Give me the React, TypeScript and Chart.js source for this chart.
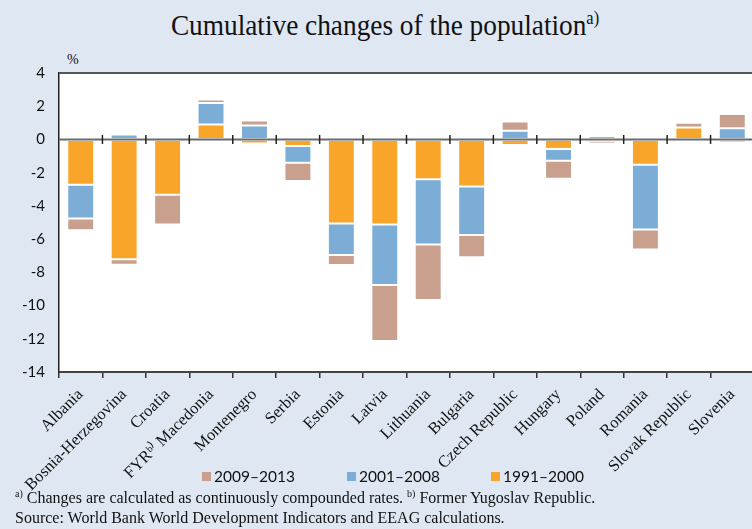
import React, { useEffect, useRef } from "react";
import { Chart, registerables } from "chart.js";

Chart.register(...registerables);

const categories = [
  "Albania",
  "Bosnia-Herzegovina",
  "Croatia",
  "FYRᵇ⁾ Macedonia",
  "Montenegro",
  "Serbia",
  "Estonia",
  "Latvia",
  "Lithuania",
  "Bulgaria",
  "Czech Republic",
  "Hungary",
  "Poland",
  "Romania",
  "Slovak Republic",
  "Slovenia",
];

const p1991_2000 = [-2.73, -7.21, -3.33, 0.9, -0.24, -0.4, -5.06, -5.12, -2.39, -2.83, -0.34, -0.57, 0.2, -1.52, 0.72, -0.18];
const p2001_2008 = [-2.03, 0.3, 0.0, 1.3, 0.84, -1.0, -1.9, -3.65, -3.93, -2.93, 0.52, -0.72, -0.08, -3.9, -0.06, 0.67];
const p2009_2013 = [-0.7, -0.34, -1.79, 0.2, 0.3, -1.1, -0.6, -3.37, -3.35, -1.33, 0.56, -1.08, -0.16, -1.2, 0.28, 0.86];

const yTicks = [4, 2, 0, -2, -4, -6, -8, -10, -12, -14];

const seriesNames = ["2009–2013", "2001–2008", "1991–2000"];
const COLORS = { s2009: "#C9A08D", s2001: "#7BADD6", s1991: "#F9A52A" };
const BG = "#DFE7F3";

const overlayPlugin = {
  id: "overlay",
  beforeDraw(chart: any) {
    const { ctx, chartArea } = chart;
    ctx.save();
    ctx.fillStyle = "#FFFFFF";
    ctx.fillRect(chartArea.left, chartArea.top, chartArea.right - chartArea.left, chartArea.bottom - chartArea.top);
    ctx.restore();
  },
  afterDatasetsDraw(chart: any) {
    const { ctx, chartArea, scales } = chart;
    const y0 = scales.y.getPixelForValue(0);
    ctx.save();
    ctx.strokeStyle = "#555";
    ctx.lineWidth = 2;
    ctx.beginPath();
    ctx.moveTo(chartArea.left, chartArea.top);
    ctx.lineTo(chartArea.right, chartArea.top);
    ctx.stroke();
    ctx.strokeStyle = "#6a6a6a";
    ctx.lineWidth = 2;
    ctx.beginPath();
    ctx.moveTo(chartArea.left, y0);
    ctx.lineTo(chartArea.right, y0);
    ctx.stroke();
    ctx.strokeStyle = "#222";
    ctx.lineWidth = 1.5;
    const n = categories.length;
    for (let i = 1; i < n; i++) {
      const x = (scales.x.getPixelForValue(i - 1) + scales.x.getPixelForValue(i)) / 2;
      ctx.beginPath();
      ctx.moveTo(x, y0 - 4.5);
      ctx.lineTo(x, y0 + 4.5);
      ctx.stroke();
    }
    ctx.restore();
  },
};

function ChartCanvas() {
  const ref = useRef<HTMLCanvasElement | null>(null);
  useEffect(() => {
    if (!ref.current) return;
    const barStyle = {
      borderWidth: 1,
      borderColor: "rgba(255,255,255,0.55)",
      borderSkipped: false,
      categoryPercentage: 1,
      barPercentage: 0.62,
    };
    const chart = new Chart(ref.current, {
      type: "bar",
      data: {
        labels: categories,
        datasets: [
          { label: seriesNames[2], data: p1991_2000, backgroundColor: COLORS.s1991, ...barStyle },
          { label: seriesNames[1], data: p2001_2008, backgroundColor: COLORS.s2001, ...barStyle },
          { label: seriesNames[0], data: p2009_2013, backgroundColor: COLORS.s2009, ...barStyle },
        ],
      } as any,
      options: {
        animation: false,
        responsive: false,
        devicePixelRatio: 1,
        layout: { padding: { top: 21, left: 0, right: 0, bottom: 0 } },
        plugins: { legend: { display: false }, tooltip: { enabled: false }, title: { display: false } },
        scales: {
          x: {
            stacked: true,
            grid: { drawOnChartArea: false, drawTicks: true, tickLength: 6, color: "#333", lineWidth: 1.5, offset: true },
            border: { color: "#444", width: 2 },
            ticks: {
              autoSkip: false,
              minRotation: 45,
              maxRotation: 45,
              padding: 7,
              color: "#111",
              font: { family: "'Liberation Serif', serif", size: 16.5 },
            },
            afterFit: (s: any) => {
              s.height = 157;
            },
          },
          y: {
            stacked: true,
            min: -14,
            max: 4,
            afterBuildTicks: (s: any) => {
              s.ticks = yTicks.map((v) => ({ value: v }));
            },
            grid: { drawOnChartArea: false, drawTicks: false },
            border: { color: "#222", width: 1.5 },
            ticks: {
              padding: 14,
              color: "#111",
              font: { family: "Lato, 'Noto Sans', sans-serif", size: 15 },
            },
            afterFit: (s: any) => {
              s.width = 59;
            },
          },
        },
      } as any,
      plugins: [overlayPlugin],
    });
    return () => chart.destroy();
  }, []);
  return <canvas ref={ref} width={754} height={479} style={{ position: "absolute", left: 0, top: 50, width: 754, height: 479 }} />;
}

export default function App() {
  const legendColors = [COLORS.s2009, COLORS.s2001, COLORS.s1991];
  const legendX = [202, 347, 491];
  return (
    <div style={{ position: "absolute", left: 0, top: 0, width: 752, height: 529, overflow: "hidden", background: BG }}>
      <div
        style={{
          position: "absolute",
          left: 0,
          top: 8,
          width: 770,
          textAlign: "center",
          fontFamily: "'Liberation Serif', serif",
          fontSize: 30,
          color: "#111",
          whiteSpace: "nowrap",
          transform: "scaleX(0.91)",
          transformOrigin: "385px 0",
        }}
      >
        Cumulative changes of the population<sup style={{ fontSize: 18 }}>a)</sup>
      </div>
      <div style={{ position: "absolute", left: 67, top: 52, fontFamily: "'Liberation Serif', serif", fontSize: 14, color: "#111" }}>%</div>
      <ChartCanvas />
      {seriesNames.map((name, i) => (
        <div
          key={name}
          style={{
            position: "absolute",
            left: legendX[i],
            top: 467,
            display: "flex",
            alignItems: "center",
            fontFamily: "Lato, 'Noto Sans', sans-serif",
            fontSize: 15.5,
            color: "#111",
            whiteSpace: "nowrap",
          }}
        >
          <span style={{ display: "inline-block", width: 9, height: 9, background: legendColors[i], marginRight: 3 }} />
          {name}
        </div>
      ))}
      <div
        style={{
          position: "absolute",
          left: 15,
          top: 484,
          fontFamily: "'Liberation Serif', serif",
          fontSize: 16,
          lineHeight: "20px",
          color: "#111",
          whiteSpace: "nowrap",
        }}
      >
        <div>
          <sup style={{ fontSize: 10 }}>a)</sup> Changes are calculated as continuously compounded rates. <sup style={{ fontSize: 10 }}>b)</sup> Former Yugoslav Republic.
        </div>
        <div>Source: World Bank World Development Indicators and EEAG calculations.</div>
      </div>
    </div>
  );
}
